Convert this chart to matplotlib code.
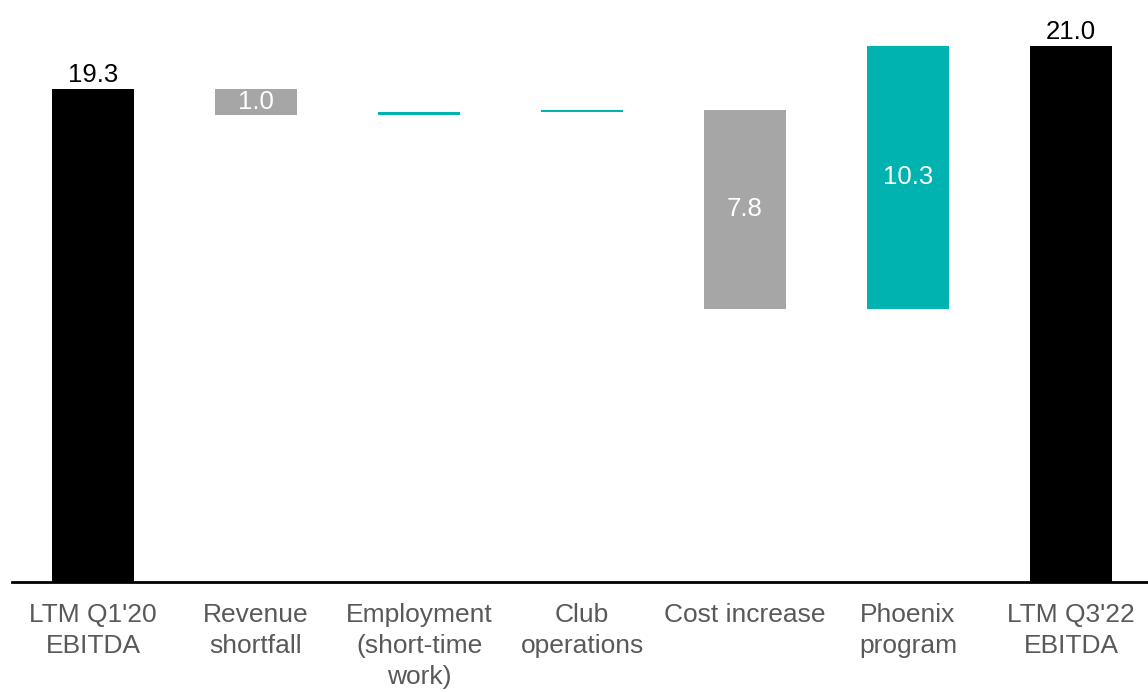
import numpy as np
import matplotlib.pyplot as plt

plt.rcParams["font.family"] = ["Liberation Sans", "DejaVu Sans"]

# ------------------------------------------------------------
# EBITDA bridge data
# ------------------------------------------------------------
categories = [
    "LTM Q1'20\nEBITDA",
    "Revenue\nshortfall",
    "Employment\n(short-time\nwork)",
    "Club\noperations",
    "Cost increase",
    "Phoenix\nprogram",
    "LTM Q3'22\nEBITDA",
]
values = [19.3, -1.0, 0.1, 0.1, -7.8, 10.3, 21.0]
is_total = [True, False, False, False, False, False, True]

BLACK = "#000000"
GREY = "#A6A6A6"
TEAL = "#00B3B1"
LABEL_GREY = "#595959"

# running bottoms / heights for the waterfall
bottoms, heights, colors = [], [], []
level = 0.0
for v, tot in zip(values, is_total):
    if tot:
        bottoms.append(0.0)
        heights.append(v)
        colors.append(BLACK)
        level = v
    else:
        new_level = level + v
        bottoms.append(min(level, new_level))
        heights.append(abs(v))
        colors.append(TEAL if v > 0 else GREY)
        level = new_level

x = np.arange(len(categories))

fig = plt.figure(figsize=(11.48, 6.92), dpi=100)
ax = fig.add_axes([12 / 1148, 110 / 692, 1 - 12 / 1148, 1 - 110 / 692])

ax.bar(x, heights, bottom=bottoms, width=0.5, color=colors, linewidth=0)

# value labels
for xi, v, b, h, tot in zip(x, values, bottoms, heights, is_total):
    if abs(v) < 0.5:
        continue
    if tot:
        ax.annotate(f"{abs(v):.1f}", (xi, b + h), xytext=(0, 1.5),
                    textcoords="offset points", ha="center", va="bottom",
                    fontsize=18.5, color=BLACK)
    else:
        ax.text(xi, b + h / 2, f"{abs(v):.1f}", ha="center", va="center",
                fontsize=18.5, color="white")

ax.set_xlim(-0.497, 6.472)
ax.set_ylim(0, 22.79)

ax.set_xticks(x)
ax.set_xticklabels(categories, fontsize=19, color=LABEL_GREY, linespacing=1.38)
ax.tick_params(axis="x", length=0, pad=15)
ax.set_yticks([])

for side in ["top", "right", "left"]:
    ax.spines[side].set_visible(False)
ax.spines["bottom"].set_linewidth(2)
ax.spines["bottom"].set_color(BLACK)

plt.savefig("out.png", dpi=100)
plt.close()
